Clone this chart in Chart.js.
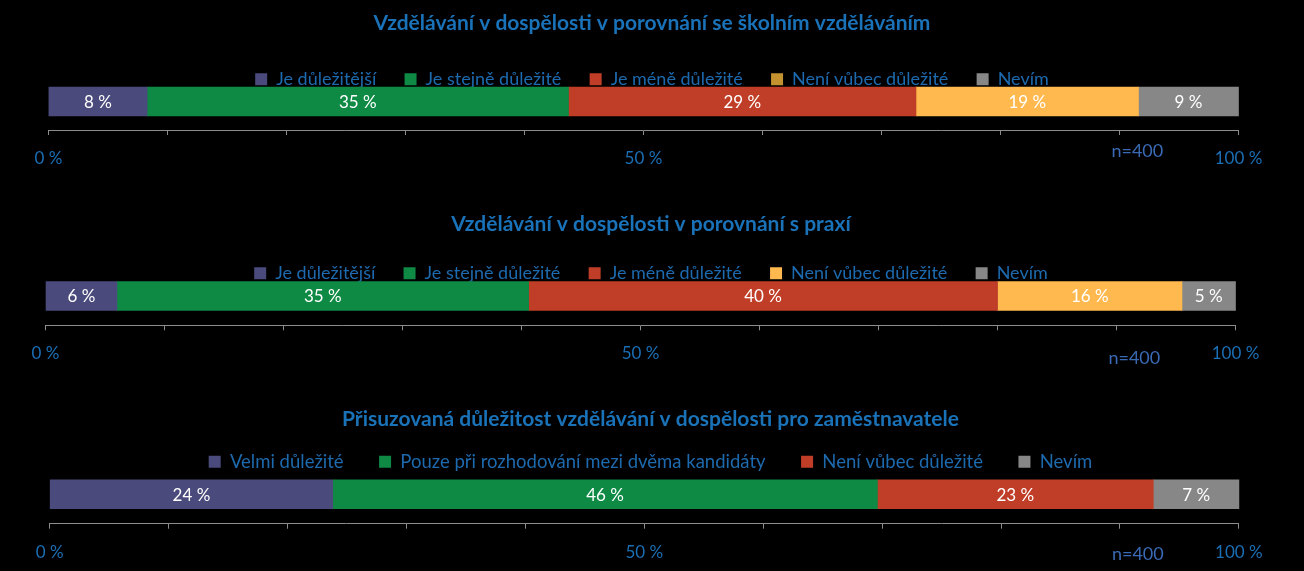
<!DOCTYPE html>
<html>
<head>
<meta charset="utf-8">
<script src="https://cdn.jsdelivr.net/npm/chart.js@4/dist/chart.umd.min.js"></script>
<style>
  html, body { margin: 0; padding: 0; background: #000; width: 1304px; height: 571px; overflow: hidden; }
  .panel { position: absolute; left: 0; width: 1304px; }
</style>
</head>
<body>
<div class="panel" style="top:0px;height:183px"><canvas id="school"></canvas></div>
<div class="panel" style="top:195px;height:183px"><canvas id="practice"></canvas></div>
<div class="panel" style="top:390px;height:186px"><canvas id="employer"></canvas></div>
<script>
// data
const titles = [
  'Vzdělávání v dospělosti v porovnání se školním vzděláváním',
  'Vzdělávání v dospělosti v porovnání s praxí',
  'Přisuzovaná důležitost vzdělávání v dospělosti pro zaměstnavatele'
];
const answersCompare = ['Je důležitější', 'Je stejně důležité', 'Je méně důležité', 'Není vůbec důležité', 'Nevím'];
const answersEmployer = ['Velmi důležité', 'Pouze při rozhodování mezi dvěma kandidáty', 'Není vůbec důležité', 'Nevím'];

const schoolValues = [8.3, 35.4, 29.2, 18.7, 8.4];
const schoolLabels = ['8 %', '35 %', '29 %', '19 %', '9 %'];
const practiceValues = [6.0, 34.6, 39.4, 15.5, 4.5];
const practiceLabels = ['6 %', '35 %', '40 %', '16 %', '5 %'];
const employerValues = [23.8, 45.8, 23.2, 7.2];
const employerLabels = ['24 %', '46 %', '23 %', '7 %'];

const labelledTicks = { 0: '0 %', 50: '50 %', 100: '100 %' };
const sampleNote = 'n=400';

// colours
const PURPLE = '#4a4a7c', GREEN = '#0e8a45', RED = '#c03e27', YELLOW = '#ffb94e', GRAY = '#878787';
const BLUE = '#1b6fb5';

Chart.defaults.font.family = 'Lato, "Open Sans", sans-serif';
Chart.defaults.animation = false;

// percentage inside each segment + the sample size under the axis
const barText = {
  id: 'barText',
  afterDatasetsDraw(chart, args, opts) {
    const ctx = chart.ctx;
    ctx.save();
    ctx.textAlign = 'center';
    ctx.textBaseline = 'middle';
    ctx.fillStyle = '#fff';
    ctx.font = '17px Lato';
    chart.data.datasets.forEach((ds, i) => {
      chart.getDatasetMeta(i).data.forEach(bar => {
        ctx.fillText(ds.valueText, (bar.x + bar.base) / 2, bar.y + 1);
      });
    });
    const xs = chart.scales.x;
    ctx.fillStyle = '#3a6ab5';
    ctx.font = '18px Lato';
    ctx.fillText(opts.note, xs.getPixelForValue(opts.noteAt), xs.top + opts.noteDy);
    ctx.restore();
  }
};

function drawPanel(id, p) {
  const datasets = p.answers.map((a, i) => ({
    label: a,
    data: [{ x: p.values[i], y: 0 }],
    valueText: p.texts[i],
    backgroundColor: p.colors[i],
    borderWidth: 0,
    barThickness: 29,
    clip: false
  }));
  new Chart(document.getElementById(id), {
    type: 'bar',
    data: { datasets },
    options: {
      indexAxis: 'y',
      responsive: true,
      maintainAspectRatio: false,
      layout: { padding: { left: p.padL, right: p.padR, top: 0, bottom: p.padB } },
      scales: {
        x: {
          stacked: true, min: 0, max: 100,
          grid: { drawOnChartArea: false, drawTicks: true, tickLength: 5, color: '#8c8c8c' },
          border: { display: true, color: '#8c8c8c', width: 1 },
          ticks: {
            stepSize: 10, autoSkip: false, maxRotation: 0, padding: p.tickPad,
            color: BLUE, font: { size: 17, lineHeight: 1.176 },
            callback: v => labelledTicks[v] || ''
          }
        },
        y: {
          type: 'linear', stacked: true, position: 'right', offset: false,
          min: -1, max: p.rowMax,
          grid: { display: false }, border: { display: false }, ticks: { display: false },
          afterFit: s => { s.width = p.spacer; }
        }
      },
      plugins: {
        title: {
          display: true, text: p.title, color: '#1a72b8',
          font: { size: 21, weight: 'bold', lineHeight: 1 },
          padding: { top: p.titleTop, bottom: p.titleBottom }
        },
        legend: {
          display: true, position: 'top',
          labels: {
            color: '#1d6aae', font: { size: p.legendSize, lineHeight: 1.1 }, boxWidth: 12, boxHeight: 12,
            padding: p.legendGap,
            generateLabels: chart => {
              const items = Chart.defaults.plugins.legend.labels.generateLabels(chart);
              items.forEach((it, i) => { it.fillStyle = p.swatches[i]; it.lineWidth = 0; });
              return items;
            }
          }
        },
        tooltip: { enabled: false },
        barText: { note: sampleNote, noteAt: 91.5, noteDy: p.noteDy }
      }
    },
    plugins: [barText]
  });
}

drawPanel('school', {
  title: titles[0], answers: answersCompare, values: schoolValues, texts: schoolLabels,
  colors: [PURPLE, GREEN, RED, YELLOW, GRAY],
  swatches: [PURPLE, GREEN, RED, '#c4922f', GRAY],
  padL: 48.4, padR: 48.4, padB: 0, spacer: 17.1, rowMax: 0.112, tickPad: 14,
  titleTop: 12.5, titleBottom: 8.5, legendSize: 18, legendGap: 28.3, noteDy: 21
});
drawPanel('practice', {
  title: titles[1], answers: answersCompare, values: practiceValues, texts: practiceLabels,
  colors: [PURPLE, GREEN, RED, YELLOW, GRAY],
  swatches: [PURPLE, GREEN, RED, YELLOW, GRAY],
  padL: 45.5, padR: 47.5, padB: 0.7, spacer: 21, rowMax: 0.126, tickPad: 13.5,
  titleTop: 18.5, titleBottom: 1.5, legendSize: 18, legendGap: 28.3, noteDy: 33
});
drawPanel('employer', {
  title: titles[2], answers: answersEmployer, values: employerValues, texts: employerLabels,
  colors: [PURPLE, GREEN, RED, GRAY],
  swatches: [PURPLE, GREEN, RED, GRAY],
  padL: 49.7, padR: 52.7, padB: 0.3, spacer: 12.4, rowMax: 0.452, tickPad: 13.5,
  titleTop: 19, titleBottom: -13, legendSize: 18.5, legendGap: 35.5, noteDy: 30
});
</script>
</body>
</html>
